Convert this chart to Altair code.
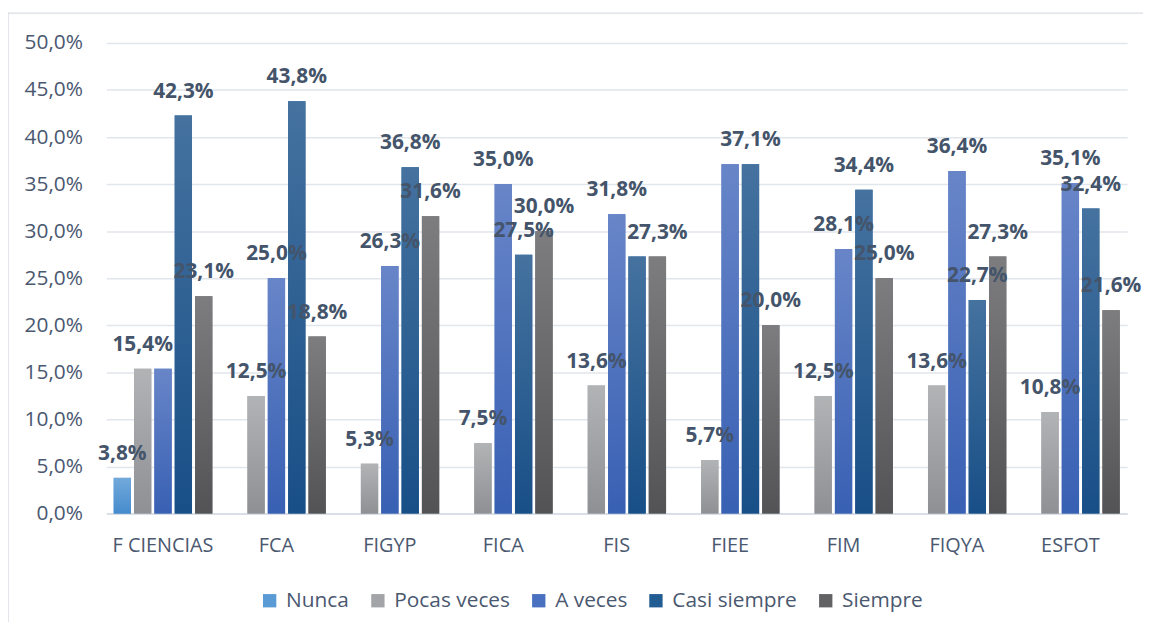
import altair as alt
import pandas as pd

categories = ["F CIENCIAS", "FCA", "FIGYP", "FICA", "FIS", "FIEE", "FIM", "FIQYA", "ESFOT"]
series = ["Nunca", "Pocas veces", "A veces", "Casi siempre", "Siempre"]

nunca = [3.8, 0, 0, 0, 0, 0, 0, 0, 0]
pocas_veces = [15.4, 12.5, 5.3, 7.5, 13.6, 5.7, 12.5, 13.6, 10.8]
a_veces = [15.4, 25.0, 26.3, 35.0, 31.8, 37.1, 28.1, 36.4, 35.1]
casi_siempre = [42.3, 43.8, 36.8, 27.5, 27.3, 37.1, 34.4, 22.7, 32.4]
siempre = [23.1, 18.8, 31.6, 30.0, 27.3, 20.0, 25.0, 27.3, 21.6]

# labels that are not visible in the reference (overlapping duplicates)
hidden_labels = [("F CIENCIAS", "A veces"), ("FIS", "Casi siempre"), ("FIEE", "A veces")]

colors = ["#5A9BD5", "#A3A4A7", "#4A70C0", "#215C93", "#626265"]
grad_top = ["#72A9DB", "#B2B3B5", "#6885C8", "#45729F", "#7D7D7F"]
grad_bottom = ["#468BCD", "#8F9094", "#3860B3", "#184F87", "#535355"]

values = [nunca, pocas_veces, a_veces, casi_siempre, siempre]
rows = []
for s, vals in zip(series, values):
    for c, v in zip(categories, vals):
        rows.append({
            "Facultad": c,
            "Serie": s,
            "Valor": v,
            "Etiqueta": f"{v:.1f}%".replace(".", ","),
            "Mostrar": (v > 0) and ((c, s) not in hidden_labels),
        })
df = pd.DataFrame(rows)

FONT = "Open Sans"
TXT = "#4A5870"

x_enc = alt.X("Facultad:N", sort=categories,
              scale=alt.Scale(paddingInner=0.13, paddingOuter=0.065),
              axis=alt.Axis(title=None, labelAngle=0, labelFontSize=20, labelFont=FONT,
                            labelColor=TXT, labelPadding=22, ticks=False,
                            domainColor="#D9DFE7", domainWidth=2))
xo_enc = alt.XOffset("Serie:N", sort=series, scale=alt.Scale(paddingInner=0.15))
y_enc = alt.Y("Valor:Q", scale=alt.Scale(domain=[0, 50], nice=False),
              axis=alt.Axis(title=None, values=[0, 5, 10, 15, 20, 25, 30, 35, 40, 45, 50],
                            labelExpr="replace(format(datum.value, '.1f'), '.', ',') + '%'",
                            labelFontSize=21, labelFont=FONT, labelColor=TXT,
                            labelPadding=24, ticks=False, domain=False,
                            gridColor="#E1E6EC", gridWidth=1.5))

base = alt.Chart(df)

frame = base.mark_rect(filled=False, stroke="#D9DDE3", strokeWidth=1.5).encode(
    x=alt.value(-99), x2=alt.value(1200), y=alt.value(-30), y2=alt.value(700)
).transform_filter("datum.Facultad == 'FCA' && datum.Serie == 'Nunca'")

bars = base.mark_bar().encode(
    x=x_enc,
    xOffset=xo_enc,
    y=y_enc,
    color=alt.Color("Serie:N", sort=series,
                    scale=alt.Scale(domain=series, range=colors),
                    legend=alt.Legend(title=None, orient="none", direction="horizontal",
                                      legendX=154, legendY=551,
                                      symbolType="square", symbolSize=180,
                                      symbolStrokeWidth=0,
                                      labelFontSize=21, labelFont=FONT, labelColor=TXT,
                                      labelOffset=6, columnPadding=18)),
)

grad_layers = []
for s, top, bot in zip(series, grad_top, grad_bottom):
    grad_layers.append(
        base.transform_filter(alt.datum.Serie == s).mark_bar(
            color=alt.Gradient(gradient="linear",
                               stops=[alt.GradientStop(color=top, offset=0),
                                      alt.GradientStop(color=bot, offset=1)],
                               x1=0, x2=0, y1=0, y2=1)
        ).encode(
            x=alt.X("Facultad:N", sort=categories),
            xOffset=alt.XOffset("Serie:N", sort=series),
            y=alt.Y("Valor:Q"),
        )
    )

labels = base.transform_filter("datum.Mostrar").mark_text(
    baseline="alphabetic", dy=-18, fontSize=21, fontWeight="bold", font=FONT, color="#44546A"
).encode(
    x=alt.X("Facultad:N", sort=categories),
    xOffset=alt.XOffset("Serie:N", sort=series),
    y=alt.Y("Valor:Q"),
    text="Etiqueta:N",
)

chart = alt.layer(frame, bars, *grad_layers, labels).properties(
    width=1028, height=474,
    autosize=alt.AutoSizeParams(type="none"),
    padding={"left": 99, "top": 33, "right": 16, "bottom": 107},
).configure_view(stroke=None)

chart.save("out.html", embed_options={"renderer": "svg", "actions": False})
